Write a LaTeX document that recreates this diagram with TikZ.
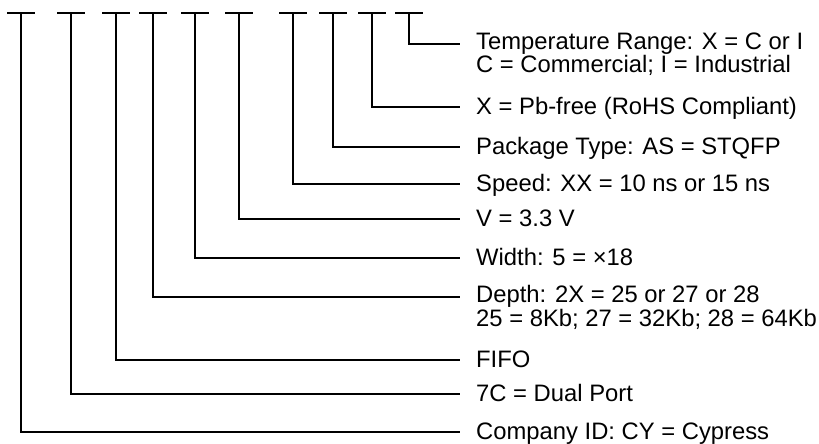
\documentclass[tikz,border=0pt]{standalone}
\usepackage{fontspec}
\newfontfamily\lbl{Liberation Sans}
\begin{document}
\begin{tikzpicture}[x=1pt,y=-1pt,
  wire/.style={line width=1.7pt, line cap=rect},
  lbltext/.style={anchor=base west, inner sep=0pt, align=left,
    font=\lbl\fontsize{23.8}{22}\selectfont}]
\useasboundingbox (0,0) rectangle (819,444);
% stem tops
\foreach \n/\x in {1/21,2/71,3/116,4/153,5/195,6/239,7/293,8/333,9/372,10/409}{
  \coordinate (s\n) at (\x,13);
}
% line ends
\foreach \n/\y in {1/432,2/394,3/360,4/297,5/258,6/219,7/184,8/147,9/107,10/44}{
  \coordinate (e\n) at (459,\y);
}
% crossbars and connectors
\foreach \n in {1,...,10}{
  \draw[wire] ([xshift=-13pt]s\n) -- ([xshift=13pt]s\n);
  \draw[wire] (s\n) |- (e\n);
}
% labels (multi-line labels are placed by the baseline of their last line)
\node[lbltext] (l10) at (476,73) {Temperature Range: X = C or I\\C = Commercial; I = Industrial};
\node[lbltext] (l9) at (476,114) {X = Pb-free (RoHS Compliant)};
\node[lbltext] (l8) at (476,154) {Package Type: AS = STQFP};
\node[lbltext] (l7) at (476,191) {Speed: XX = 10 ns or 15 ns};
\node[lbltext] (l6) at (476,226) {V = 3.3 V};
\node[lbltext] (l5) at (476,265) {Width: 5 = ×18};
\node[lbltext] (l4) at (476,326) {Depth: 2X = 25 or 27 or 28\\25 = 8Kb; 27 = 32Kb; 28 = 64Kb};
\node[lbltext] (l3) at (476,367) {FIFO};
\node[lbltext] (l2) at (476,401) {7C = Dual Port};
\node[lbltext] (l1) at (476,439) {Company ID: CY = Cypress};
\end{tikzpicture}
\end{document}
